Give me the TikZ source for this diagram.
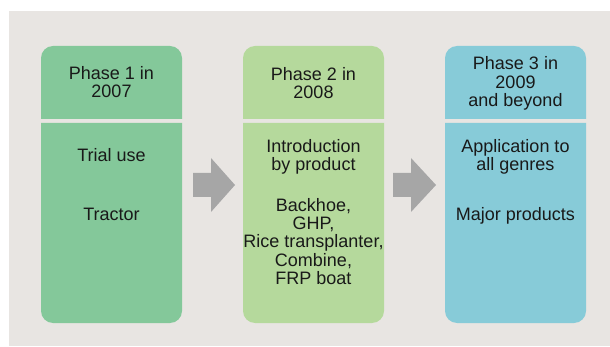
\documentclass[tikz,border=0pt]{standalone}
\usepackage{fontspec}
\setmainfont{Liberation Sans}
\definecolor{panelgrey}{HTML}{E8E5E2}
\definecolor{phaseone}{HTML}{84C89A}
\definecolor{phasetwo}{HTML}{B5D99C}
\definecolor{phasethree}{HTML}{87CBD8}
\definecolor{arrowgrey}{HTML}{A6A6A6}
\tikzset{
  txt/.style={anchor=north, inner sep=0pt, align=center, text=black!90,
    font=\fontsize{18}{18.3}\selectfont},
  blockarrow/.style={fill=arrowgrey, draw=none},
}
\begin{document}
\begin{tikzpicture}[x=1pt, y=-1pt]
\useasboundingbox (0,0) rectangle (610,347);
\fill[white] (0,0) rectangle (610,347);
\fill[panelgrey] (9,11) rectangle (610,346);

% box outlines: header (top rounded) and body (bottom rounded)
\foreach \xl/\xr/\col in {41/182/phaseone, 243/384/phasetwo, 445/586/phasethree}{
  \fill[\col] (\xl,119) [rounded corners=12pt] -- (\xl,46) -- (\xr,46) [sharp corners] -- (\xr,119) -- cycle;
  \fill[\col] (\xl,123) [rounded corners=12pt] -- (\xl,323) -- (\xr,323) [sharp corners] -- (\xr,123) -- cycle;
}

% block arrows
\foreach \xa/\xh/\xt in {193/211/235, 393/411/436}{
  \fill[blockarrow] (\xa,173) -- (\xh,173) -- (\xh,158) -- (\xt,185) -- (\xh,212) -- (\xh,197) -- (\xa,197) -- cycle;
}

% texts
\node[txt] (h1) at (111.5,66) {Phase 1 in\\2007};
\node[txt] (b1a) at (111.5,148) {Trial use};
\node[txt] (b1b) at (111.5,208) {Tractor};

\node[txt] (h2) at (313.5,67) {Phase 2 in\\2008};
\node[txt] (b2a) at (313.5,139) {Introduction\\by product};
\node[txt] (b2b) at (313.5,198) {Backhoe,\\GHP,\\Rice transplanter,\\Combine,\\FRP boat};

\node[txt] (h3) at (515.5,56.7) {Phase 3 in\\2009\\and beyond};
\node[txt] (b3a) at (515.5,139) {Application to\\all genres};
\node[txt] (b3b) at (515.5,207) {Major products};
\end{tikzpicture}
\end{document}
